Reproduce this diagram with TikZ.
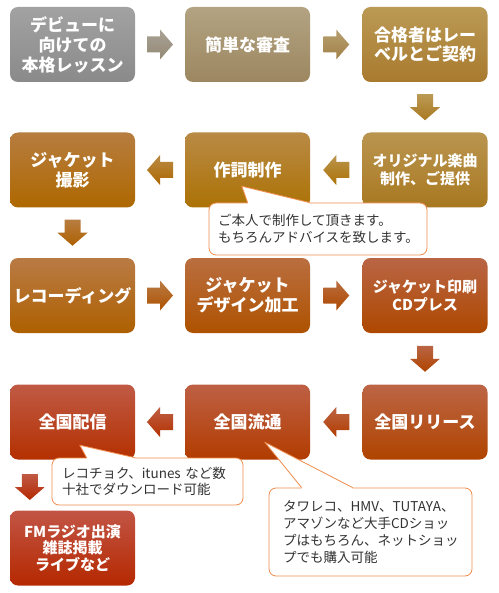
\documentclass[tikz,border=0pt]{standalone}
\usepackage{fontspec}
\setmainfont{Noto Sans CJK JP}
\usetikzlibrary{calc}

\definecolor{notecol}{HTML}{F08C4C}
\definecolor{notetext}{HTML}{333333}
% box colours, top / bottom
\definecolor{lessonT}{HTML}{A2A2A2}\definecolor{lessonB}{HTML}{8A8A8A}
\definecolor{auditT}{HTML}{B3A382}\definecolor{auditB}{HTML}{9C8760}
\definecolor{contractT}{HTML}{BB9A55}\definecolor{contractB}{HTML}{A87A2E}
\definecolor{originalT}{HTML}{BA9550}\definecolor{originalB}{HTML}{A87820}
\definecolor{lyricsT}{HTML}{B98A45}\definecolor{lyricsB}{HTML}{AC7205}
\definecolor{photoT}{HTML}{B77D40}\definecolor{photoB}{HTML}{AE6800}
\definecolor{recordingT}{HTML}{B97B45}\definecolor{recordingB}{HTML}{AE6000}
\definecolor{designT}{HTML}{BA6E40}\definecolor{designB}{HTML}{AE5200}
\definecolor{pressT}{HTML}{B96545}\definecolor{pressB}{HTML}{AE4800}
\definecolor{releaseT}{HTML}{BC6545}\definecolor{releaseB}{HTML}{B04400}
\definecolor{distribT}{HTML}{BE6045}\definecolor{distribB}{HTML}{B23C00}
\definecolor{onlineT}{HTML}{C05A45}\definecolor{onlineB}{HTML}{B43000}
\definecolor{mediaT}{HTML}{C25545}\definecolor{mediaB}{HTML}{B52800}

\tikzset{
  stepbox/.style={rounded corners=8pt, minimum width=125pt, minimum height=75pt,
    inner sep=0pt, align=center, text=white,
    font=\bfseries\fontsize{17}{20}\selectfont},
  smallstep/.style={font=\bfseries\fontsize{15}{18}\selectfont},
  note/.style={draw=notecol, line width=0.8pt, fill=white, rounded corners=7pt,
    inner ysep=0pt, align=left, text=notetext},
  flowarrow/.pic={\shade[#1] (-13,-8) -- (0,-8) -- (0,-15) -- (13,0) -- (0,15) -- (0,8) -- (-13,8) -- cycle;}
}

% pointer of a callout: note, left and right base offsets, tip
\newcommand{\notepointer}[4]{%
  \fill[white] ($(#1.north west)+(#2+0.6,2)$) -- ($(#1.north west)+(#2,0)$) -- (#4)
    -- ($(#1.north west)+(#3,0)$) -- ($(#1.north west)+(#3-0.6,2)$) -- cycle;
  \draw[notecol, line width=0.8pt, line join=round]
    ($(#1.north west)+(#2,0)$) -- (#4) -- ($(#1.north west)+(#3,0)$);
}

\begin{document}
\begin{tikzpicture}[x=1pt,y=-1pt]
\useasboundingbox (0,0) rectangle (498,593);

% row 1
\node[stepbox, top color=lessonT, bottom color=lessonB] (lesson) at (72.5,44.5) {デビューに\\向けての\\本格レッスン};
\node[stepbox, top color=auditT, bottom color=auditB] (audit) at (247.5,44.5) {簡単な審査};
\node[stepbox, top color=contractT, bottom color=contractB, font=\bfseries\fontsize{17}{19}\selectfont] (contract) at (425,44.5) {合格者はレー\\ベルとご契約};

% row 2
\node[stepbox, smallstep, top color=originalT, bottom color=originalB] (original) at (425,170) {オリジナル楽曲\\制作、ご提供};
\node[stepbox, top color=lyricsT, bottom color=lyricsB] (lyrics) at (247.5,170) {作詞制作};
\node[stepbox, top color=photoT, bottom color=photoB] (photo) at (72.5,170) {ジャケット\\撮影};

% row 3
\node[stepbox, top color=recordingT, bottom color=recordingB] (recording) at (72.5,295.5) {レコーディング};
\node[stepbox, top color=designT, bottom color=designB] (design) at (247.5,295.5) {ジャケット\\デザイン加工};
\node[stepbox, smallstep, top color=pressT, bottom color=pressB] (press) at (425,295.5) {ジャケット印刷\\CDプレス};

% row 4
\node[stepbox, top color=releaseT, bottom color=releaseB] (release) at (425,422) {全国リリース};
\node[stepbox, top color=distribT, bottom color=distribB] (distrib) at (247.5,422) {全国流通};
\node[stepbox, top color=onlineT, bottom color=onlineB] (online) at (72.5,422) {全国配信};

% row 5
\node[stepbox, top color=mediaT, bottom color=mediaB, font=\bfseries\fontsize{15}{16.7}\selectfont] (media) at (72.5,548) {FMラジオ出演\\雑誌掲載\\ライブなど};

% arrows
\pic at ($(lesson.east)!0.5!(audit.west)$) {flowarrow={top color=lessonT!60!auditT, bottom color=lessonB!50!auditB}};
\pic at ($(audit.east)!0.5!(contract.west)$) {flowarrow={top color=auditT!60!contractT, bottom color=auditB!50!contractB}};
\pic[rotate=-90] at ($(contract.south)!0.5!(original.north)$) {flowarrow={top color=contractT, bottom color=originalB}};
\pic[rotate=180] at ($(original.west)!0.5!(lyrics.east)$) {flowarrow={top color=originalT, bottom color=lyricsB}};
\pic[rotate=180] at ($(lyrics.west)!0.5!(photo.east)$) {flowarrow={top color=lyricsT, bottom color=photoB}};
\pic[rotate=-90] at ($(photo.south)!0.5!(recording.north)$) {flowarrow={top color=photoT, bottom color=recordingB}};
\pic at ($(recording.east)!0.5!(design.west)$) {flowarrow={top color=recordingT, bottom color=designB}};
\pic at ($(design.east)!0.5!(press.west)$) {flowarrow={top color=designT, bottom color=pressB}};
\pic[rotate=-90] at ($(press.south)!0.5!(release.north)$) {flowarrow={top color=pressT, bottom color=releaseB}};
\pic[rotate=180] at ($(release.west)!0.5!(distrib.east)$) {flowarrow={top color=releaseT, bottom color=distribB}};
\pic[rotate=180] at ($(distrib.west)!0.5!(online.east)$) {flowarrow={top color=distribT, bottom color=onlineB}};
\pic[rotate=-90] at ($(online.south west)!0.5!(media.north west)+(20,2)$) {flowarrow={top color=onlineT, bottom color=mediaB}};

% callouts
\coordinate (lyricstip) at ($(lyrics.south west)+(57,-21.5)$);
\coordinate (onlinetip) at ($(online.south west)+(70,-14.5)$);
\coordinate (shoptip) at ($(distrib.south west)+(80,-17.5)$);

\node[note, minimum width=218pt, minimum height=52pt, text width=200pt,
  font=\fontsize{13.5}{17}\selectfont] (lyricsnote) at (318,229)
  {ご本人で制作して頂きます。\\もちろんアドバイスを致します。};
\notepointer{lyricsnote}{39}{101}{lyricstip}

\node[note, minimum width=191pt, minimum height=47pt, text width=171pt,
  font=\fontsize{13.5}{16.5}\selectfont] (onlinenote) at (147.5,481.5)
  {レコチョク、itunes など数\\十社でダウンロード可能};
\notepointer{onlinenote}{35}{83}{onlinetip}

\node[note, minimum width=203pt, minimum height=88pt, text width=175pt,
  font=\fontsize{13.5}{16.7}\selectfont] (shopnote) at (370.5,532)
  {タワレコ、HMV、TUTAYA、\\アマゾンなど大手CDショッ\\プはもちろん、ネットショッ\\プでも購入可能};
\notepointer{shopnote}{33}{84}{shoptip}

\end{tikzpicture}
\end{document}
